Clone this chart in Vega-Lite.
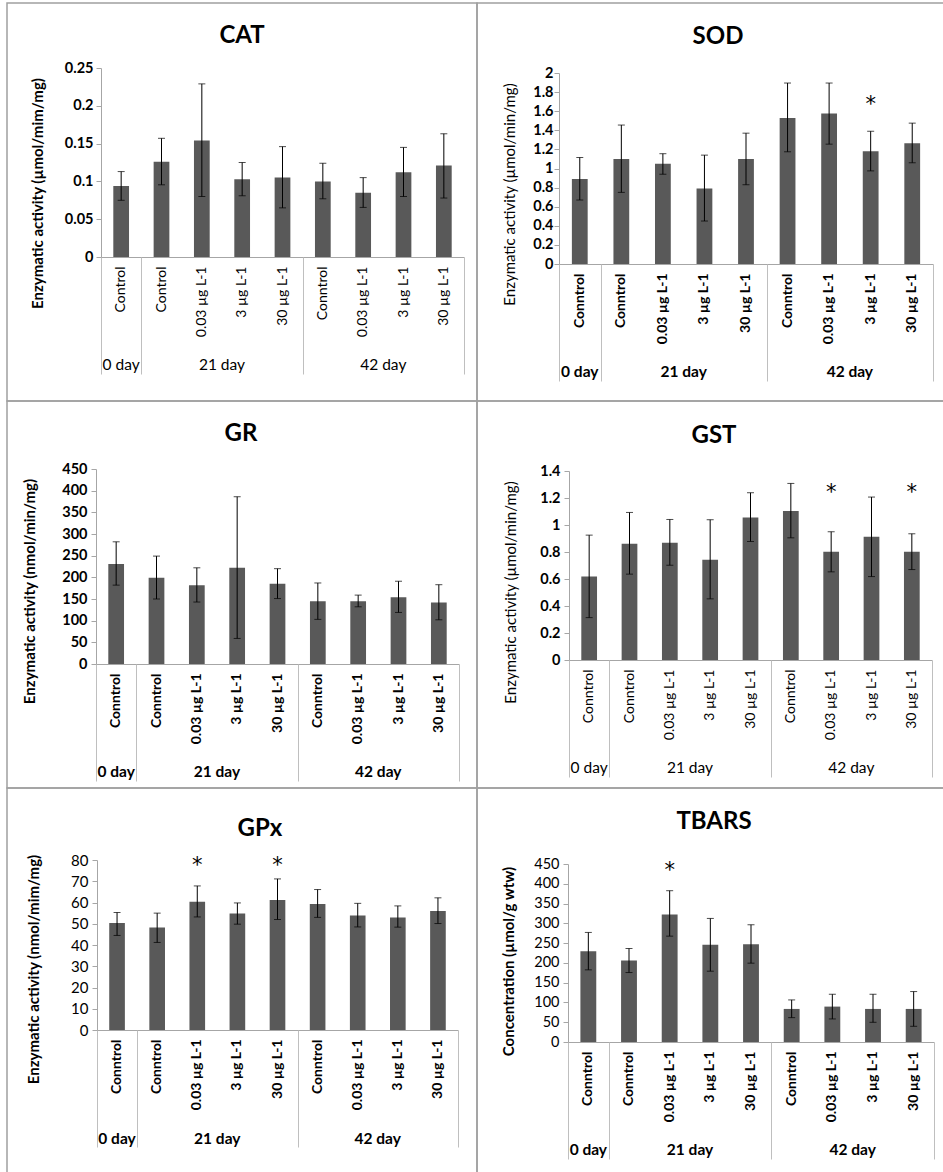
{
  "$schema": "https://vega.github.io/schema/vega-lite/v6.json",
  "padding": {"left": 6, "top": 2, "right": 0, "bottom": 0},
  "background": "white",
  "columns": 2,
  "spacing": 0,
  "bounds": "flush",
  "align": "each",
  "resolve": {"scale": {"x": "independent", "y": "independent"}},
  "data": {"values": [
    {"p": "CAT", "c": "0 day|Control", "v": 0.094, "lo": 0.075, "hi": 0.113},
    {"p": "CAT", "c": "21 day|Control", "v": 0.126, "lo": 0.0955, "hi": 0.157},
    {"p": "CAT", "c": "21 day|0.03 µg L-1", "v": 0.154, "lo": 0.08, "hi": 0.229},
    {"p": "CAT", "c": "21 day|3 µg L-1", "v": 0.103, "lo": 0.081, "hi": 0.125},
    {"p": "CAT", "c": "21 day|30 µg L-1", "v": 0.105, "lo": 0.065, "hi": 0.146},
    {"p": "CAT", "c": "42 day|Conntrol", "v": 0.1, "lo": 0.077, "hi": 0.124},
    {"p": "CAT", "c": "42 day|0.03 µg L-1", "v": 0.085, "lo": 0.0656, "hi": 0.105},
    {"p": "CAT", "c": "42 day|3 µg L-1", "v": 0.112, "lo": 0.08, "hi": 0.145},
    {"p": "CAT", "c": "42 day|30 µg L-1", "v": 0.121, "lo": 0.078, "hi": 0.163},
    {"p": "SOD", "c": "0 day|Conntrol", "v": 0.89, "lo": 0.67, "hi": 1.115},
    {"p": "SOD", "c": "21 day|Conntrol", "v": 1.1, "lo": 0.75, "hi": 1.455},
    {"p": "SOD", "c": "21 day|0.03 µg L-1", "v": 1.05, "lo": 0.94, "hi": 1.155},
    {"p": "SOD", "c": "21 day|3 µg L-1", "v": 0.79, "lo": 0.45, "hi": 1.14},
    {"p": "SOD", "c": "21 day|30 µg L-1", "v": 1.1, "lo": 0.83, "hi": 1.37},
    {"p": "SOD", "c": "42 day|Conntrol", "v": 1.53, "lo": 1.175, "hi": 1.895},
    {"p": "SOD", "c": "42 day|0.03 µg L-1", "v": 1.575, "lo": 1.255, "hi": 1.895},
    {"p": "SOD", "c": "42 day|3 µg L-1", "v": 1.18, "lo": 0.975, "hi": 1.39, "s": "*"},
    {"p": "SOD", "c": "42 day|30 µg L-1", "v": 1.265, "lo": 1.06, "hi": 1.475},
    {"p": "GR", "c": "0 day|Conntrol", "v": 231, "lo": 182, "hi": 282},
    {"p": "GR", "c": "21 day|Conntrol", "v": 199, "lo": 150, "hi": 249},
    {"p": "GR", "c": "21 day|0.03 µg L-1", "v": 182, "lo": 143, "hi": 222},
    {"p": "GR", "c": "21 day|3 µg L-1", "v": 222, "lo": 59, "hi": 386},
    {"p": "GR", "c": "21 day|30 µg L-1", "v": 185, "lo": 151, "hi": 220},
    {"p": "GR", "c": "42 day|Conntrol", "v": 145, "lo": 103, "hi": 187},
    {"p": "GR", "c": "42 day|0.03 µg L-1", "v": 145, "lo": 132, "hi": 159},
    {"p": "GR", "c": "42 day|3 µg L-1", "v": 154, "lo": 119, "hi": 191},
    {"p": "GR", "c": "42 day|30 µg L-1", "v": 142, "lo": 102, "hi": 183},
    {"p": "GST", "c": "0 day|Conntrol", "v": 0.618, "lo": 0.314, "hi": 0.925},
    {"p": "GST", "c": "21 day|Conntrol", "v": 0.861, "lo": 0.636, "hi": 1.093},
    {"p": "GST", "c": "21 day|0.03 µg L-1", "v": 0.868, "lo": 0.702, "hi": 1.041},
    {"p": "GST", "c": "21 day|3 µg L-1", "v": 0.742, "lo": 0.453, "hi": 1.039},
    {"p": "GST", "c": "21 day|30 µg L-1", "v": 1.056, "lo": 0.878, "hi": 1.239},
    {"p": "GST", "c": "42 day|Conntrol", "v": 1.103, "lo": 0.905, "hi": 1.308},
    {"p": "GST", "c": "42 day|0.03 µg L-1", "v": 0.801, "lo": 0.653, "hi": 0.95, "s": "*"},
    {"p": "GST", "c": "42 day|3 µg L-1", "v": 0.913, "lo": 0.618, "hi": 1.207},
    {"p": "GST", "c": "42 day|30 µg L-1", "v": 0.801, "lo": 0.67, "hi": 0.935, "s": "*"},
    {"p": "GPx", "c": "0 day|Conntrol", "v": 50.3, "lo": 44.5, "hi": 55.3},
    {"p": "GPx", "c": "21 day|Conntrol", "v": 48.2, "lo": 41.2, "hi": 55.0},
    {"p": "GPx", "c": "21 day|0.03 µg L-1", "v": 60.4, "lo": 53.2, "hi": 67.8, "s": "*"},
    {"p": "GPx", "c": "21 day|3 µg L-1", "v": 54.8, "lo": 49.8, "hi": 59.8},
    {"p": "GPx", "c": "21 day|30 µg L-1", "v": 61.2, "lo": 52.0, "hi": 71.1, "s": "*"},
    {"p": "GPx", "c": "42 day|Conntrol", "v": 59.3, "lo": 53.0, "hi": 66.1},
    {"p": "GPx", "c": "42 day|0.03 µg L-1", "v": 53.9, "lo": 48.5, "hi": 59.6},
    {"p": "GPx", "c": "42 day|3 µg L-1", "v": 52.9, "lo": 48.4, "hi": 58.4},
    {"p": "GPx", "c": "42 day|30 µg L-1", "v": 56.0, "lo": 50.1, "hi": 62.2},
    {"p": "TBARS", "c": "0 day|Conntrol", "v": 229.6, "lo": 182.4, "hi": 277},
    {"p": "TBARS", "c": "21 day|Conntrol", "v": 206, "lo": 175.6, "hi": 236.4},
    {"p": "TBARS", "c": "21 day|0.03 µg L-1", "v": 322.5, "lo": 267.6, "hi": 382.5, "s": "*"},
    {"p": "TBARS", "c": "21 day|3 µg L-1", "v": 245.7, "lo": 179, "hi": 312.4},
    {"p": "TBARS", "c": "21 day|30 µg L-1", "v": 247.4, "lo": 199.3, "hi": 296.4},
    {"p": "TBARS", "c": "42 day|Conntrol", "v": 83.6, "lo": 61.6, "hi": 106.4},
    {"p": "TBARS", "c": "42 day|0.03 µg L-1", "v": 89.5, "lo": 58.3, "hi": 120.7},
    {"p": "TBARS", "c": "42 day|3 µg L-1", "v": 83.6, "lo": 49.8, "hi": 120.7},
    {"p": "TBARS", "c": "42 day|30 µg L-1", "v": 83.6, "lo": 39.7, "hi": 127.5}
  ]},
  "concat": [
    {
      "width": 470, "height": 398,
      "title": {"text": "CAT", "dx": 0, "offset": -44.5},
      "transform": [{"filter": "datum.p == 'CAT'"}],
      "resolve": {"axis": {"x": "independent"}},
      "layer": [
        {"mark": {"type": "bar", "color": "#595959", "width": {"band": 0.39}},
         "encoding": {
           "x": {"field": "c", "type": "nominal",
                 "scale": {"domain": ["0 day|Control", "21 day|Control", "21 day|0.03 µg L-1", "21 day|3 µg L-1", "21 day|30 µg L-1", "42 day|Conntrol", "42 day|0.03 µg L-1", "42 day|3 µg L-1", "42 day|30 µg L-1"], "range": [94, 457], "paddingInner": 0, "paddingOuter": 0},
                 "axis": {"orient": "bottom", "offset": -144, "title": null, "ticks": false, "domain": true, "domainColor": "#A6A6A6", "labelAngle": -90, "labelAlign": "right", "labelBaseline": "middle", "labelPadding": 9, "labelFontSize": 14, "labelFontWeight": "normal", "labelOverlap": false, "labelExpr": "split(datum.value, '|')[1]"}},
           "y": {"field": "v", "type": "quantitative",
                 "scale": {"domain": [0, 0.25], "range": [254, 65], "nice": false},
                 "axis": {"orient": "left", "offset": -94, "values": [0, 0.05, 0.1, 0.15, 0.2, 0.25], "tickCount": 30, "format": ".2~f", "domainColor": "#A6A6A6", "tickColor": "#A6A6A6", "tickSize": 5, "labelPadding": 3, "labelOverlap": false, "labelFontSize": 14.5, "labelFontWeight": "bold", "title": "Enzymatic activity (µmol/mim/mg)", "titleFontSize": 15, "titleFontWeight": "bold", "titleX": -64, "titleY": 190, "titleBaseline": "middle"}}
         }},
        {"mark": {"type": "rule", "color": "#000000", "strokeWidth": 1},
         "encoding": {
           "x": {"field": "c", "type": "nominal", "axis": {"orient": "bottom", "offset": -144, "title": null, "labels": false, "domain": false, "ticks": true, "tickBand": "extent", "tickSize": 117, "tickColor": "#BFBFBF", "tickWidth": 1, "tickOpacity": {"condition": {"test": "!datum.value || indexof(datum.value, '0 day') == 0 || indexof(datum.value, '|30') >= 0", "value": 1}, "value": 0}}},
           "y": {"field": "lo", "type": "quantitative"},
           "y2": {"field": "hi"}
         }},
        {"mark": {"type": "tick", "color": "#000000", "thickness": 1, "size": 7},
         "encoding": {
           "x": {"field": "c", "type": "nominal", "axis": {"orient": "bottom", "offset": -144, "title": null, "ticks": false, "domain": false, "labelAngle": 0, "labelAlign": "center", "labelBaseline": "middle", "labelPadding": 107, "labelFontSize": 15.5, "labelFontWeight": "normal", "labelOverlap": false, "labelExpr": "indexof(datum.value, '0 day') == 0 || indexof(datum.value, '|3 µg') > 0 ? split(datum.value, '|')[0] : ''", "labelOffset": {"condition": {"test": "indexof(datum.value, '0 day') == 0", "value": 0}, "value": -20.2}}},
           "y": {"field": "lo", "type": "quantitative"}
         }},
        {"mark": {"type": "tick", "color": "#000000", "thickness": 1, "size": 7},
         "encoding": {
           "x": {"field": "c", "type": "nominal", "axis": null},
           "y": {"field": "hi", "type": "quantitative"}
         }}
      ]
    },
    {
      "width": 470, "height": 398,
      "title": {"text": "SOD", "dx": 6, "offset": -45.5},
      "transform": [{"filter": "datum.p == 'SOD'"}],
      "resolve": {"axis": {"x": "independent"}},
      "layer": [
        {"mark": {"type": "bar", "color": "#595959", "width": {"band": 0.38}},
         "encoding": {
           "x": {"field": "c", "type": "nominal",
                 "scale": {"domain": ["0 day|Conntrol", "21 day|Conntrol", "21 day|0.03 µg L-1", "21 day|3 µg L-1", "21 day|30 µg L-1", "42 day|Conntrol", "42 day|0.03 µg L-1", "42 day|3 µg L-1", "42 day|30 µg L-1"], "range": [82, 456], "paddingInner": 0, "paddingOuter": 0},
                 "axis": {"orient": "bottom", "offset": -137, "title": null, "ticks": false, "domain": true, "domainColor": "#A6A6A6", "labelAngle": -90, "labelAlign": "right", "labelBaseline": "middle", "labelPadding": 9, "labelFontSize": 14, "labelFontWeight": "bold", "labelOverlap": false, "labelExpr": "split(datum.value, '|')[1]"}},
           "y": {"field": "v", "type": "quantitative",
                 "scale": {"domain": [0, 2], "range": [261, 70], "nice": false},
                 "axis": {"orient": "left", "offset": -82, "values": [0, 0.2, 0.4, 0.6, 0.8, 1, 1.2, 1.4, 1.6, 1.8, 2], "tickCount": 30, "format": ".1~f", "domainColor": "#A6A6A6", "tickColor": "#A6A6A6", "tickSize": 5, "labelPadding": 1, "labelOverlap": false, "labelFontSize": 14.5, "labelFontWeight": "bold", "title": "Enzymatic activity (µmol/min/mg)", "titleFontSize": 15, "titleFontWeight": "normal", "titleX": -50, "titleY": 191, "titleBaseline": "middle"}}
         }},
        {"mark": {"type": "rule", "color": "#000000", "strokeWidth": 1},
         "encoding": {
           "x": {"field": "c", "type": "nominal", "axis": {"orient": "bottom", "offset": -137, "title": null, "labels": false, "domain": false, "ticks": true, "tickBand": "extent", "tickSize": 117, "tickColor": "#BFBFBF", "tickWidth": 1, "tickOpacity": {"condition": {"test": "!datum.value || indexof(datum.value, '0 day') == 0 || indexof(datum.value, '|30') >= 0", "value": 1}, "value": 0}}},
           "y": {"field": "lo", "type": "quantitative"},
           "y2": {"field": "hi"}
         }},
        {"mark": {"type": "tick", "color": "#000000", "thickness": 1, "size": 7},
         "encoding": {
           "x": {"field": "c", "type": "nominal", "axis": {"orient": "bottom", "offset": -137, "title": null, "ticks": false, "domain": false, "labelAngle": 0, "labelAlign": "center", "labelBaseline": "middle", "labelPadding": 107, "labelFontSize": 15.5, "labelFontWeight": "bold", "labelOverlap": false, "labelExpr": "indexof(datum.value, '0 day') == 0 || indexof(datum.value, '|3 µg') > 0 ? split(datum.value, '|')[0] : ''", "labelOffset": {"condition": {"test": "indexof(datum.value, '0 day') == 0", "value": 0}, "value": -20.8}}},
           "y": {"field": "lo", "type": "quantitative"}
         }},
        {"mark": {"type": "tick", "color": "#000000", "thickness": 1, "size": 7},
         "encoding": {
           "x": {"field": "c", "type": "nominal", "axis": null},
           "y": {"field": "hi", "type": "quantitative"}
         }},
        {"transform": [{"filter": "datum.s == '*'"}],
         "mark": {"type": "text", "text": "*", "font": "DejaVu Sans", "fontSize": 21, "baseline": "alphabetic", "dy": 10, "color": "#000000"},
         "encoding": {
           "x": {"field": "c", "type": "nominal", "axis": null},
           "y": {"datum": 1.71}
         }}
      ]
    },
    {
      "width": 470, "height": 387,
      "title": {"text": "GR", "dx": -1, "offset": -45},
      "transform": [{"filter": "datum.p == 'GR'"}],
      "resolve": {"axis": {"x": "independent"}},
      "layer": [
        {"mark": {"type": "bar", "color": "#595959", "width": {"band": 0.39}},
         "encoding": {
           "x": {"field": "c", "type": "nominal",
                 "scale": {"domain": ["0 day|Conntrol", "21 day|Conntrol", "21 day|0.03 µg L-1", "21 day|3 µg L-1", "21 day|30 µg L-1", "42 day|Conntrol", "42 day|0.03 µg L-1", "42 day|3 µg L-1", "42 day|30 µg L-1"], "range": [89, 452], "paddingInner": 0, "paddingOuter": 0},
                 "axis": {"orient": "bottom", "offset": -124, "title": null, "ticks": false, "domain": true, "domainColor": "#A6A6A6", "labelAngle": -90, "labelAlign": "right", "labelBaseline": "middle", "labelPadding": 9, "labelFontSize": 14, "labelFontWeight": "bold", "labelOverlap": false, "labelExpr": "split(datum.value, '|')[1]"}},
           "y": {"field": "v", "type": "quantitative",
                 "scale": {"domain": [0, 450], "range": [263, 68], "nice": false},
                 "axis": {"orient": "left", "offset": -89, "values": [0, 50, 100, 150, 200, 250, 300, 350, 400, 450], "tickCount": 30, "format": "d", "domainColor": "#A6A6A6", "tickColor": "#A6A6A6", "tickSize": 5, "labelPadding": 4, "labelOverlap": false, "labelFontSize": 14.5, "labelFontWeight": "bold", "title": "Enzymatic activity (nmol/min/mg)", "titleFontSize": 15, "titleFontWeight": "bold", "titleX": -67, "titleY": 190, "titleBaseline": "middle"}}
         }},
        {"mark": {"type": "rule", "color": "#000000", "strokeWidth": 1},
         "encoding": {
           "x": {"field": "c", "type": "nominal", "axis": {"orient": "bottom", "offset": -124, "title": null, "labels": false, "domain": false, "ticks": true, "tickBand": "extent", "tickSize": 117, "tickColor": "#BFBFBF", "tickWidth": 1, "tickOpacity": {"condition": {"test": "!datum.value || indexof(datum.value, '0 day') == 0 || indexof(datum.value, '|30') >= 0", "value": 1}, "value": 0}}},
           "y": {"field": "lo", "type": "quantitative"},
           "y2": {"field": "hi"}
         }},
        {"mark": {"type": "tick", "color": "#000000", "thickness": 1, "size": 7},
         "encoding": {
           "x": {"field": "c", "type": "nominal", "axis": {"orient": "bottom", "offset": -124, "title": null, "ticks": false, "domain": false, "labelAngle": 0, "labelAlign": "center", "labelBaseline": "middle", "labelPadding": 107, "labelFontSize": 15.5, "labelFontWeight": "bold", "labelOverlap": false, "labelExpr": "indexof(datum.value, '0 day') == 0 || indexof(datum.value, '|3 µg') > 0 ? split(datum.value, '|')[0] : ''", "labelOffset": {"condition": {"test": "indexof(datum.value, '0 day') == 0", "value": 0}, "value": -20.2}}},
           "y": {"field": "lo", "type": "quantitative"}
         }},
        {"mark": {"type": "tick", "color": "#000000", "thickness": 1, "size": 7},
         "encoding": {
           "x": {"field": "c", "type": "nominal", "axis": null},
           "y": {"field": "hi", "type": "quantitative"}
         }}
      ]
    },
    {
      "width": 470, "height": 387,
      "title": {"text": "GST", "dx": 2, "offset": -46.5},
      "transform": [{"filter": "datum.p == 'GST'"}],
      "resolve": {"axis": {"x": "independent"}},
      "layer": [
        {"mark": {"type": "bar", "color": "#595959", "width": {"band": 0.39}},
         "encoding": {
           "x": {"field": "c", "type": "nominal",
                 "scale": {"domain": ["0 day|Conntrol", "21 day|Conntrol", "21 day|0.03 µg L-1", "21 day|3 µg L-1", "21 day|30 µg L-1", "42 day|Conntrol", "42 day|0.03 µg L-1", "42 day|3 µg L-1", "42 day|30 µg L-1"], "range": [92, 455], "paddingInner": 0, "paddingOuter": 0},
                 "axis": {"orient": "bottom", "offset": -128, "title": null, "ticks": false, "domain": true, "domainColor": "#A6A6A6", "labelAngle": -90, "labelAlign": "right", "labelBaseline": "middle", "labelPadding": 9, "labelFontSize": 14, "labelFontWeight": "normal", "labelOverlap": false, "labelExpr": "split(datum.value, '|')[1]"}},
           "y": {"field": "v", "type": "quantitative",
                 "scale": {"domain": [0, 1.4], "range": [259, 70], "nice": false},
                 "axis": {"orient": "left", "offset": -92, "values": [0, 0.2, 0.4, 0.6, 0.8, 1, 1.2, 1.4], "tickCount": 30, "format": ".1~f", "domainColor": "#A6A6A6", "tickColor": "#A6A6A6", "tickSize": 5, "labelPadding": 4, "labelOverlap": false, "labelFontSize": 14.5, "labelFontWeight": "bold", "title": "Enzymatic activity (µmol/min/mg)", "titleFontSize": 15, "titleFontWeight": "normal", "titleX": -59, "titleY": 191, "titleBaseline": "middle"}}
         }},
        {"mark": {"type": "rule", "color": "#000000", "strokeWidth": 1},
         "encoding": {
           "x": {"field": "c", "type": "nominal", "axis": {"orient": "bottom", "offset": -128, "title": null, "labels": false, "domain": false, "ticks": true, "tickBand": "extent", "tickSize": 117, "tickColor": "#BFBFBF", "tickWidth": 1, "tickOpacity": {"condition": {"test": "!datum.value || indexof(datum.value, '0 day') == 0 || indexof(datum.value, '|30') >= 0", "value": 1}, "value": 0}}},
           "y": {"field": "lo", "type": "quantitative"},
           "y2": {"field": "hi"}
         }},
        {"mark": {"type": "tick", "color": "#000000", "thickness": 1, "size": 7},
         "encoding": {
           "x": {"field": "c", "type": "nominal", "axis": {"orient": "bottom", "offset": -128, "title": null, "ticks": false, "domain": false, "labelAngle": 0, "labelAlign": "center", "labelBaseline": "middle", "labelPadding": 107, "labelFontSize": 15.5, "labelFontWeight": "normal", "labelOverlap": false, "labelExpr": "indexof(datum.value, '0 day') == 0 || indexof(datum.value, '|3 µg') > 0 ? split(datum.value, '|')[0] : ''", "labelOffset": {"condition": {"test": "indexof(datum.value, '0 day') == 0", "value": 0}, "value": -20.2}}},
           "y": {"field": "lo", "type": "quantitative"}
         }},
        {"mark": {"type": "tick", "color": "#000000", "thickness": 1, "size": 7},
         "encoding": {
           "x": {"field": "c", "type": "nominal", "axis": null},
           "y": {"field": "hi", "type": "quantitative"}
         }},
        {"transform": [{"filter": "datum.s == '*'"}],
         "mark": {"type": "text", "text": "*", "font": "DejaVu Sans", "fontSize": 21, "baseline": "alphabetic", "dy": 10, "color": "#000000"},
         "encoding": {
           "x": {"field": "c", "type": "nominal", "axis": null},
           "y": {"datum": 1.27}
         }}
      ]
    },
    {
      "width": 470, "height": 387,
      "title": {"text": "GPx", "dx": 18, "offset": -53},
      "transform": [{"filter": "datum.p == 'GPx'"}],
      "resolve": {"axis": {"x": "independent"}},
      "layer": [
        {"mark": {"type": "bar", "color": "#595959", "width": {"band": 0.39}},
         "encoding": {
           "x": {"field": "c", "type": "nominal",
                 "scale": {"domain": ["0 day|Conntrol", "21 day|Conntrol", "21 day|0.03 µg L-1", "21 day|3 µg L-1", "21 day|30 µg L-1", "42 day|Conntrol", "42 day|0.03 µg L-1", "42 day|3 µg L-1", "42 day|30 µg L-1"], "range": [90, 451], "paddingInner": 0, "paddingOuter": 0},
                 "axis": {"orient": "bottom", "offset": -145, "title": null, "ticks": false, "domain": true, "domainColor": "#A6A6A6", "labelAngle": -90, "labelAlign": "right", "labelBaseline": "middle", "labelPadding": 9, "labelFontSize": 14, "labelFontWeight": "bold", "labelOverlap": false, "labelExpr": "split(datum.value, '|')[1]"}},
           "y": {"field": "v", "type": "quantitative",
                 "scale": {"domain": [0, 80], "range": [242, 72], "nice": false},
                 "axis": {"orient": "left", "offset": -90, "values": [0, 10, 20, 30, 40, 50, 60, 70, 80], "tickCount": 30, "format": "d", "domainColor": "#A6A6A6", "tickColor": "#A6A6A6", "tickSize": 5, "labelPadding": 4, "labelOverlap": false, "labelFontSize": 15, "labelFontWeight": "normal", "title": "Enzymatic activity (nmol/mim/mg)", "titleFontSize": 15, "titleFontWeight": "bold", "titleX": -64, "titleY": 181, "titleBaseline": "middle"}}
         }},
        {"mark": {"type": "rule", "color": "#000000", "strokeWidth": 1},
         "encoding": {
           "x": {"field": "c", "type": "nominal", "axis": {"orient": "bottom", "offset": -145, "title": null, "labels": false, "domain": false, "ticks": true, "tickBand": "extent", "tickSize": 117, "tickColor": "#BFBFBF", "tickWidth": 1, "tickOpacity": {"condition": {"test": "!datum.value || indexof(datum.value, '0 day') == 0 || indexof(datum.value, '|30') >= 0", "value": 1}, "value": 0}}},
           "y": {"field": "lo", "type": "quantitative"},
           "y2": {"field": "hi"}
         }},
        {"mark": {"type": "tick", "color": "#000000", "thickness": 1, "size": 7},
         "encoding": {
           "x": {"field": "c", "type": "nominal", "axis": {"orient": "bottom", "offset": -145, "title": null, "ticks": false, "domain": false, "labelAngle": 0, "labelAlign": "center", "labelBaseline": "middle", "labelPadding": 108, "labelFontSize": 15.5, "labelFontWeight": "bold", "labelOverlap": false, "labelExpr": "indexof(datum.value, '0 day') == 0 || indexof(datum.value, '|3 µg') > 0 ? split(datum.value, '|')[0] : ''", "labelOffset": {"condition": {"test": "indexof(datum.value, '0 day') == 0", "value": 0}, "value": -20.1}}},
           "y": {"field": "lo", "type": "quantitative"}
         }},
        {"mark": {"type": "tick", "color": "#000000", "thickness": 1, "size": 7},
         "encoding": {
           "x": {"field": "c", "type": "nominal", "axis": null},
           "y": {"field": "hi", "type": "quantitative"}
         }},
        {"transform": [{"filter": "datum.s == '*'"}],
         "mark": {"type": "text", "text": "*", "font": "DejaVu Sans", "fontSize": 21, "baseline": "alphabetic", "dy": 10, "color": "#000000"},
         "encoding": {
           "x": {"field": "c", "type": "nominal", "axis": null},
           "y": {"datum": 79}
         }}
      ]
    },
    {
      "width": 470, "height": 387,
      "title": {"text": "TBARS", "dx": 2, "offset": -45.5},
      "transform": [{"filter": "datum.p == 'TBARS'"}],
      "resolve": {"axis": {"x": "independent"}},
      "layer": [
        {"mark": {"type": "bar", "color": "#595959", "width": {"band": 0.39}},
         "encoding": {
           "x": {"field": "c", "type": "nominal",
                 "scale": {"domain": ["0 day|Conntrol", "21 day|Conntrol", "21 day|0.03 µg L-1", "21 day|3 µg L-1", "21 day|30 µg L-1", "42 day|Conntrol", "42 day|0.03 µg L-1", "42 day|3 µg L-1", "42 day|30 µg L-1"], "range": [91, 457], "paddingInner": 0, "paddingOuter": 0},
                 "axis": {"orient": "bottom", "offset": -133, "title": null, "ticks": false, "domain": true, "domainColor": "#A6A6A6", "labelAngle": -90, "labelAlign": "right", "labelBaseline": "middle", "labelPadding": 9, "labelFontSize": 14, "labelFontWeight": "bold", "labelOverlap": false, "labelExpr": "split(datum.value, '|')[1]"}},
           "y": {"field": "v", "type": "quantitative",
                 "scale": {"domain": [0, 450], "range": [254, 76], "nice": false},
                 "axis": {"orient": "left", "offset": -91, "values": [0, 50, 100, 150, 200, 250, 300, 350, 400, 450], "tickCount": 30, "format": "d", "domainColor": "#A6A6A6", "tickColor": "#A6A6A6", "tickSize": 5, "labelPadding": 4, "labelOverlap": false, "labelFontSize": 14.5, "labelFontWeight": "normal", "title": "Concentration (µmol/g wtw)", "titleFontSize": 15, "titleFontWeight": "bold", "titleX": -60, "titleY": 173, "titleBaseline": "middle"}}
         }},
        {"mark": {"type": "rule", "color": "#000000", "strokeWidth": 1},
         "encoding": {
           "x": {"field": "c", "type": "nominal", "axis": {"orient": "bottom", "offset": -133, "title": null, "labels": false, "domain": false, "ticks": true, "tickBand": "extent", "tickSize": 117, "tickColor": "#BFBFBF", "tickWidth": 1, "tickOpacity": {"condition": {"test": "!datum.value || indexof(datum.value, '0 day') == 0 || indexof(datum.value, '|30') >= 0", "value": 1}, "value": 0}}},
           "y": {"field": "lo", "type": "quantitative"},
           "y2": {"field": "hi"}
         }},
        {"mark": {"type": "tick", "color": "#000000", "thickness": 1, "size": 7},
         "encoding": {
           "x": {"field": "c", "type": "nominal", "axis": {"orient": "bottom", "offset": -133, "title": null, "ticks": false, "domain": false, "labelAngle": 0, "labelAlign": "center", "labelBaseline": "middle", "labelPadding": 107, "labelFontSize": 15.5, "labelFontWeight": "bold", "labelOverlap": false, "labelExpr": "indexof(datum.value, '0 day') == 0 || indexof(datum.value, '|3 µg') > 0 ? split(datum.value, '|')[0] : ''", "labelOffset": {"condition": {"test": "indexof(datum.value, '0 day') == 0", "value": 0}, "value": -20.3}}},
           "y": {"field": "lo", "type": "quantitative"}
         }},
        {"mark": {"type": "tick", "color": "#000000", "thickness": 1, "size": 7},
         "encoding": {
           "x": {"field": "c", "type": "nominal", "axis": null},
           "y": {"field": "hi", "type": "quantitative"}
         }},
        {"transform": [{"filter": "datum.s == '*'"}],
         "mark": {"type": "text", "text": "*", "font": "DejaVu Sans", "fontSize": 21, "baseline": "alphabetic", "dy": 10, "color": "#000000"},
         "encoding": {
           "x": {"field": "c", "type": "nominal", "axis": null},
           "y": {"datum": 443}
         }}
      ]
    }
  ],
  "config": {
    "font": "Lato",
    "view": {"stroke": "#A0A0A0", "strokeWidth": 1.5},
    "axis": {"labelFont": "Lato", "titleFont": "Lato", "labelColor": "#000000", "titleColor": "#000000", "grid": false},
    "title": {"font": "Lato", "fontSize": 24, "fontWeight": "bold", "color": "#000000", "anchor": "middle", "frame": "group", "baseline": "alphabetic"},
    "text": {"font": "Lato"}
  }
}
